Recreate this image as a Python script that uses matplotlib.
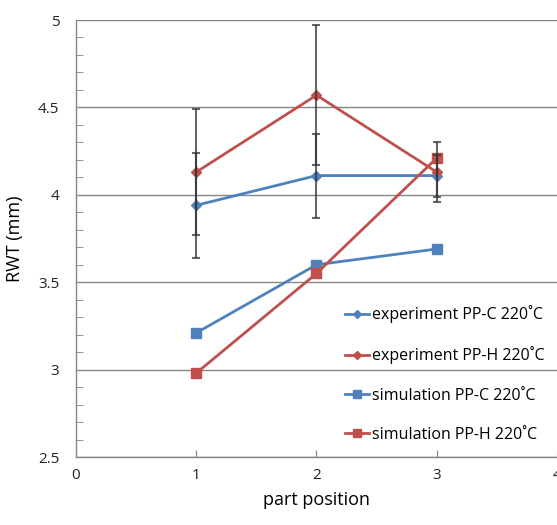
import matplotlib.pyplot as plt
from matplotlib.ticker import MultipleLocator

plt.rcParams['font.family'] = ['Open Sans', 'DejaVu Sans']

positions = [1, 2, 3]
exp_ppc = [3.94, 4.11, 4.11]
exp_pph = [4.13, 4.57, 4.13]
sim_ppc = [3.21, 3.60, 3.69]
sim_pph = [2.98, 3.55, 4.21]
err_ppc = [0.30, 0.24, 0.12]
err_pph = [0.36, 0.40, 0.17]

labels = ["experiment PP-C 220˚C", "experiment PP-H 220˚C",
          "simulation PP-C 220˚C", "simulation PP-H 220˚C"]

blue = "#4F81BD"
red = "#C0504D"
grid = "#868686"

fig = plt.figure(figsize=(5.57, 5.25), dpi=100)
ax = fig.add_axes([0.1364, 0.1295, 0.8636, 0.8324])

ax.plot(positions, exp_ppc, color=blue, lw=2, marker="D", ms=5, label=labels[0], zorder=3)
ax.plot(positions, exp_pph, color=red, lw=2, marker="D", ms=5, label=labels[1], zorder=3)
ax.plot(positions, sim_ppc, color=blue, lw=2, marker="s", ms=7, label=labels[2], zorder=3)
ax.plot(positions, sim_pph, color=red, lw=2, marker="s", ms=7, label=labels[3], zorder=3)

# error bars for the experiments
ax.errorbar(positions, exp_ppc, yerr=err_ppc, fmt="none", ecolor="#333333",
            alpha=0.75, elinewidth=1.5, capsize=3, capthick=1.5, zorder=4, clip_on=False)
ax.errorbar(positions, exp_pph, yerr=err_pph, fmt="none", ecolor="#333333",
            alpha=0.75, elinewidth=1.5, capsize=3, capthick=1.5, zorder=4, clip_on=False)

ax.set_xlim(0, 4)
ax.set_ylim(2.5, 5)
ax.xaxis.set_major_locator(MultipleLocator(1))
ax.yaxis.set_minor_locator(MultipleLocator(0.1))
ax.set_yticks([2.5, 3, 3.5, 4, 4.5, 5])
ax.set_yticklabels(["2.5", "3", "3.5", "4", "4.5", "5"])

ax.grid(axis="y", color=grid, lw=1)
ax.set_axisbelow(True)
for s in ["top", "right"]:
    ax.spines[s].set_visible(False)
for s in ["left", "bottom"]:
    ax.spines[s].set_color(grid)
    ax.spines[s].set_linewidth(1)

ax.tick_params(axis="both", which="both", direction="in", color=grid, labelsize=11,
               labelcolor="#222222")
ax.tick_params(axis="x", length=5, pad=8)
ax.tick_params(axis="y", which="major", length=0, pad=12)
ax.tick_params(axis="y", which="minor", length=5)

ax.set_xlabel("part position", fontsize=13, labelpad=6)
ax.set_ylabel("RWT (mm)", fontsize=13, labelpad=10)

leg = ax.legend(loc="upper left", bbox_to_anchor=(0.53, 0.38), frameon=False,
                fontsize=11.5, handlelength=1.5, handletextpad=0.15,
                labelspacing=1.45, markerscale=0.8)

fig.savefig("out.png", dpi=100)
